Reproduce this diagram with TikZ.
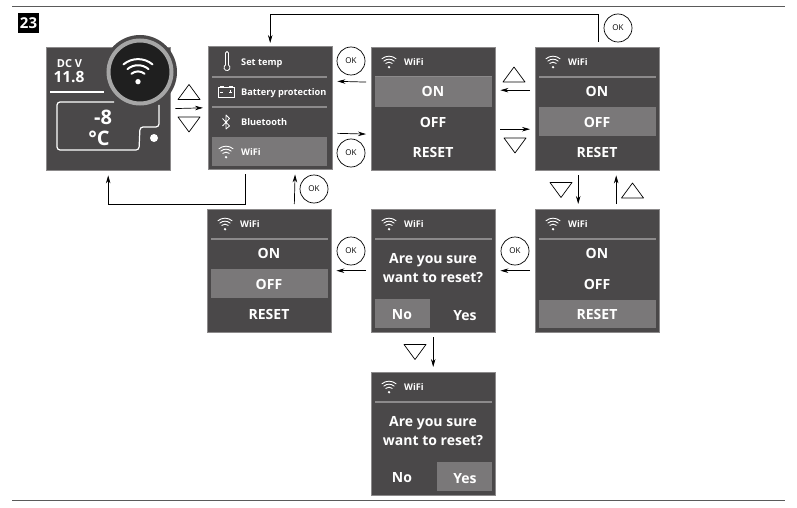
\documentclass[tikz,border=0pt]{standalone}
\usepackage{fontspec}
\setmainfont{Open Sans}
\usetikzlibrary{arrows.meta}
\definecolor{panel}{HTML}{4A4849}
\definecolor{hilite}{HTML}{7A7879}
\definecolor{divider}{HTML}{8C8A8B}
\definecolor{pagerule}{HTML}{5A5A5A}

\tikzset{
  x=1pt, y=1pt,
  screen/.style={draw=divider, line width=0.4pt, fill=panel, anchor=north west, inner sep=0pt,
                 minimum width=124pt, minimum height=123pt},
  label/.style={text=white, inner sep=0pt, font=\bfseries\fontsize{9.2}{10}\selectfont},
  choice/.style={text=white, inner sep=0pt, font=\bfseries\fontsize{14}{15}\selectfont},
  okbtn/.style={draw, circle, fill=white, line width=0.7pt, minimum size=28pt, inner sep=0pt,
                font=\fontsize{8}{9}\selectfont},
  arrow/.style={-{Stealth[length=8pt,width=4.5pt]}, line width=0.7pt, shorten <=5pt, shorten >=5pt},
  hl/.style={fill=hilite},
  sep/.style={draw=divider, line width=1.4pt},
  tri/.style={draw, line width=0.7pt, line join=round, fill=white},
  wifi/.pic={
    \fill[white] (0,-5.2) circle (1.3);
    \draw[white, line cap=round, line width=\pgfkeysvalueof{/tikz/wifiwidth}]
      (0,-5.2) ++(50:5) arc (50:130:5)
      (0,-5.2) ++(50:8) arc (50:130:8)
      (0,-5.2) ++(50:11) arc (50:130:11);
  },
  wifiwidth/.initial=0.9pt,
  uptri/.pic={\draw[tri] (-11,-7.5) -- (11,-7.5) -- (0,7.5) -- cycle;},
  downtri/.pic={\draw[tri] (-11,7.5) -- (11,7.5) -- (0,-7.5) -- cycle;}
}

% wifi header shared by the sub screens
\newcommand{\wifihead}[1]{
  \pic at ([shift={(18,-15)}]#1.north west) {wifi};
  \node[label, anchor=west] (#1-title) at ([shift={(33,-15.5)}]#1.north west) {WiFi};
  \draw[sep] ([shift={(4,-30)}]#1.north west) -- ++(117,0);
}
% on/off/reset screen: name, x, y, top of highlight, height of highlight
\newcommand{\choicescreen}[5]{
  \node[screen] (#1) at (#2,#3) {};
  \wifihead{#1}
  \fill[hl] ([shift={(4,-#4)}]#1.north west) rectangle ++(117,-#5);
  \node[choice] (#1-on) at ([shift={(62,-44.5)}]#1.north west) {ON};
  \node[choice] (#1-off) at ([shift={(62,-75.5)}]#1.north west) {OFF};
  \node[choice] (#1-reset) at ([shift={(62,-105.5)}]#1.north west) {RESET};
}
% reset question screen: name, x, y, left of highlight
\newcommand{\askscreen}[4]{
  \node[screen] (#1) at (#2,#3) {};
  \wifihead{#1}
  \fill[hl] ([shift={(#4,-90)}]#1.north west) rectangle ++(55,-29);
  \node[choice] (#1-ask) at ([shift={(62,-51)}]#1.north west) {Are you sure};
  \node[choice] (#1-want) at ([shift={(62,-68.5)}]#1.north west) {want to reset?};
  \node[choice] (#1-no) at ([shift={(31,-105.5)}]#1.north west) {No};
  \node[choice] (#1-yes) at ([shift={(94,-106.5)}]#1.north west) {Yes};
}

\begin{document}
\begin{tikzpicture}
  \useasboundingbox (0,-508) rectangle (797,0);
  \draw[pagerule, line width=0.9pt] (12,-6) -- (785,-6);
  \draw[pagerule, line width=0.9pt] (12,-500.5) -- (785,-500.5);
  \node[fill=black, text=white, inner sep=0pt, minimum width=21pt, minimum height=20pt,
        font=\bfseries\fontsize{15}{15}\selectfont] (fig) at (28.5,-23) {23};

  % home screen
  \node[screen] (home) at (46,-47) {};
  \draw[white, line width=1.2pt] (50,-92) -- (104,-92);
  \node[label, font=\bfseries\fontsize{11}{11}\selectfont] (dcv) at (69.5,-63.5) {DC V};
  \node[label, font=\bfseries\fontsize{15.5}{15.5}\selectfont] (volt) at (69,-76.5) {11.8};
  \draw[white, line width=1.2pt, rounded corners=3pt]
    (114,-102) -- (57,-102) -- (57,-150) -- (139,-150) -- (140,-127) -- (159,-127) -- (159,-105);
  \node[choice, font=\bfseries\fontsize{20}{20}\selectfont] (temp) at (103,-117) {-8};
  \node[choice, font=\bfseries\fontsize{20}{20}\selectfont] (unit) at (99,-138.5) {°C};
  \fill[white] (154,-138) circle (4);
  \node[circle, fill=panel, minimum size=74pt, inner sep=0pt] (badge) at (140,-72) {};
  \node[circle, fill=black!88, draw=black!35, line width=4pt, minimum size=63pt, inner sep=0pt] (ring) at (140,-72) {};
  \pic[scale=2.05, wifiwidth=2pt] at (138,-71) {wifi};

  % main menu
  \node[screen] (menu) at (208,-46) {};
  \fill[hl] (212,-137) rectangle (327,-166);
  \draw[sep] (212,-77) -- (327,-77);
  \draw[sep] (212,-107) -- (327,-107);
  \node[label, anchor=west] (settemp) at (241,-63.5) {Set temp};
  \node[label, anchor=west] (battery) at (241,-93.5) {Battery protection};
  \node[label, anchor=west] (bluetooth) at (241,-122.5) {Bluetooth};
  \node[label, anchor=west] (wifi) at (241,-152.5) {WiFi};
  \draw[white, line width=0.8pt] (225.5,-65) -- (225.5,-53) arc (180:0:1.5) -- (228.5,-65)
    arc (60:-240:3) -- cycle;
  \draw[white, line width=0.7pt] (218,-87.5) rectangle (234,-97);
  \draw[white, line width=0.7pt] (220,-87.5) -- (220,-86) -- (223,-86) -- (223,-87.5)
    (229,-87.5) -- (229,-86) -- (232,-86) -- (232,-87.5)
    (220,-92) -- (223,-92) (229,-92) -- (232,-92) (230.5,-90.5) -- (230.5,-93.5);
  \draw[white, line width=0.8pt, line join=round] (222.5,-118.5) -- (229.5,-126) -- (226,-129) -- (226,-115) -- (229.5,-118.5) -- (222.5,-126);
  \pic at (226,-152) {wifi};

  % sub screens
  \choicescreen{on}{371}{-47}{30}{30}
  \choicescreen{off}{535}{-47}{60}{29}
  \choicescreen{reset}{535}{-209}{91}{28}
  \choicescreen{done}{207}{-209}{60}{29}
  \askscreen{askno}{371}{-209}{4}
  \askscreen{askyes}{371}{-372}{66}

  % ok buttons
  \node[okbtn] (ok1) at (351,-61) {OK};
  \node[okbtn] (ok2) at (351,-153) {OK};
  \node[okbtn] (ok3) at (618,-28) {OK};
  \node[okbtn] (ok4) at (314,-189) {OK};
  \node[okbtn] (ok5) at (351,-251) {OK};
  \node[okbtn] (ok6) at (515,-251) {OK};

  % up and down keys
  \pic at (189,-92) {uptri};
  \pic at (189,-124.5) {downtri};
  \pic at (514,-74.5) {uptri};
  \pic at (515,-145.5) {downtri};
  \pic at (561,-190) {downtri};
  \pic at (632.5,-190.5) {uptri};
  \pic at (415,-352) {downtri};

  % connectors
  \draw[arrow] (home.east) -- (menu.west);
  \draw[arrow] ([yshift=26.5pt]on.west) -- ([yshift=26.5pt]menu.east);
  \draw[arrow] ([yshift=-25.5pt]menu.east) -- ([yshift=-25.5pt]on.west);
  \draw[arrow] ([yshift=18.5pt]off.west) -- ([yshift=18.5pt]on.east);
  \draw[arrow] ([yshift=-20.5pt]on.east) -- ([yshift=-20.5pt]off.west);
  \draw[arrow] ([xshift=-19pt]off.south) -- ([xshift=-19pt]reset.north);
  \draw[arrow] ([xshift=19pt]reset.north) -- ([xshift=19pt]off.south);
  \draw[arrow] (reset.west) -- (askno.east);
  \draw[arrow] (askno.west) -- (done.east);
  \draw[arrow] (askno.south) -- (askyes.north);
  \draw[arrow] ([xshift=25pt]done.north) -- ([xshift=25pt]menu.south);
  \draw[arrow, shorten >=3pt] ([xshift=1pt]off.north) -- ++(0,33) -| (menu.north);
  \draw[arrow] ([xshift=-25pt]menu.south) -- ++(0,-35) -| (home.south);
\end{tikzpicture}
\end{document}
